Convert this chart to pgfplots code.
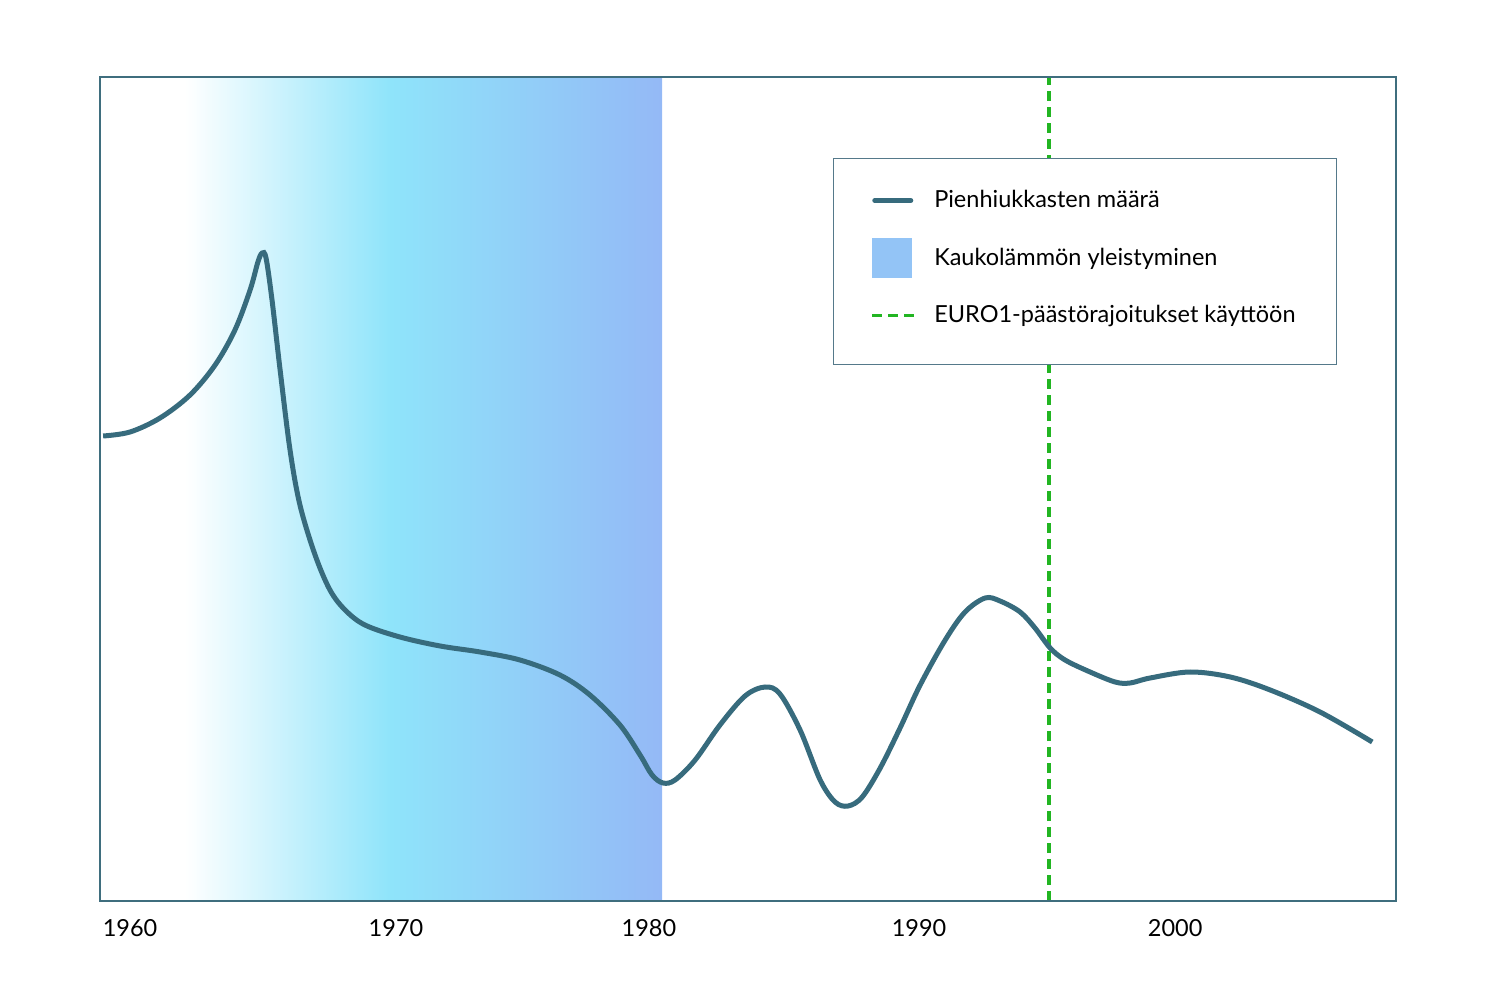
\documentclass[border=0pt]{standalone}
\usepackage{pgfplots}
\pgfplotsset{compat=1.18}
\usepackage{fontspec}
\setmainfont{Lato}
\definecolor{curve}{HTML}{376B7D}
\definecolor{frame}{HTML}{3F6E7E}
\definecolor{legborder}{HTML}{55798A}
\definecolor{euro}{HTML}{22B522}
\definecolor{cyanish}{HTML}{8FE4FA}
\definecolor{blueend}{HTML}{94B9F6}
\definecolor{legpatch}{HTML}{93C4F6}
\begin{document}
\begin{tikzpicture}
\begin{axis}[
  scale only axis, width=648pt, height=412pt,
  xmin=1958.85, xmax=2008.50, ymin=0, ymax=824,
  axis line style={draw=frame, line width=1pt},
  axis on top,
  ytick=\empty,
  xtick={1960,1970.19,1979.88,1990.23,2000.04},
  xticklabels={1960,1970,1980,1990,2000},
  major tick length=0pt,
  xticklabel style={font=\fontsize{11.75}{13}\selectfont, yshift=-5.5pt},
  legend cell align=left,
  legend style={at={(0.5656,0.9017)}, anchor=north west, draw=legborder, line width=0.5pt,
    inner xsep=18.5pt, inner ysep=11pt, row sep=8.75pt,
    font=\fontsize{11.75}{13}\selectfont, fill=white},
]
\fill[left color=white, right color=cyanish, draw=none] (axis cs:1962.11,0) rectangle (axis cs:1969.96,824);
\fill[left color=cyanish, right color=blueend, draw=none] (axis cs:1969.96,0) rectangle (axis cs:1980.38,824);

\addplot[euro, line width=1.75pt, dash pattern=on 5pt off 3pt, forget plot] coordinates {(1995.21,0) (1995.21,824)};

\addplot[curve, line width=2.5pt, smooth, tension=0.55, forget plot] coordinates {
(1958.97,465) (1960.00,469) (1961.15,483) (1962.30,506) (1963.26,536) (1964.02,571)
(1964.60,611) (1964.90,639) (1965.06,648) (1965.21,643) (1965.44,601) (1965.75,531)
(1966.13,451) (1966.51,396) (1967.09,346) (1967.66,311) (1968.24,291) (1969.00,276)
(1970.34,264) (1971.88,255) (1973.41,249) (1974.94,241) (1976.47,226) (1977.62,206)
(1978.77,176) (1979.54,146) (1980.00,126) (1980.42,118) (1980.88,121) (1981.65,141)
(1982.60,176) (1983.56,205) (1984.33,214) (1984.90,207) (1985.67,171) (1986.44,121)
(1987.01,99) (1987.51,95) (1988.05,104) (1988.74,133) (1989.50,173) (1990.27,216)
(1991.23,261) (1991.99,289) (1992.76,303) (1993.33,300) (1994.10,289) (1994.67,273)
(1995.25,253) (1995.82,241) (1996.78,229) (1997.74,219) (1998.31,218) (1999.08,223)
(2000.61,229) (2002.15,224) (2003.68,211) (2005.59,189) (2007.59,159)
};

\addlegendimage{legend image code/.code={
  \path[draw=none, fill=none] (0pt,-10pt) rectangle (29pt,10pt);
  \draw[curve, line width=2.5pt, line cap=round] (1.25pt,0pt) -- (19.25pt,0pt);}}
\addlegendentry{Pienhiukkasten määrä}
\addlegendimage{legend image code/.code={
  \path[draw=none, fill=none] (0pt,-10pt) rectangle (29pt,10pt);
  \fill[legpatch, draw=none] (0pt,-10pt) rectangle (20pt,10pt);}}
\addlegendentry{Kaukolämmön yleistyminen}
\addlegendimage{legend image code/.code={
  \path[draw=none, fill=none] (0pt,-13.5pt) rectangle (29pt,10pt);
  \draw[euro, line width=1.75pt, dash pattern=on 5pt off 3pt] (0pt,0pt) -- (21pt,0pt);}}
\addlegendentry{EURO1-päästörajoitukset käyttöön}
\end{axis}
\path ([xshift=-50pt,yshift=-49.5pt]current axis.south west) rectangle ([xshift=52pt,yshift=38.5pt]current axis.north east);
\end{tikzpicture}
\end{document}
